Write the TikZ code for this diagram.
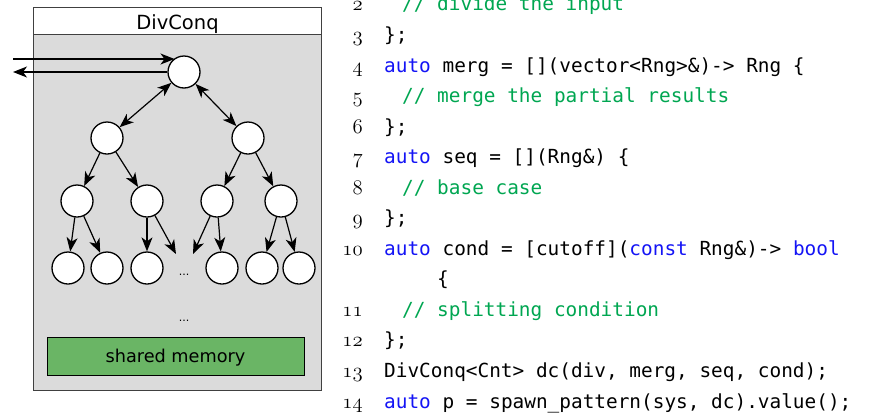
\documentclass[tikz,border=0pt]{standalone}
\usepackage{fontspec}
\setsansfont{DejaVu Sans}
\setmonofont{DejaVu Sans Mono}
\usetikzlibrary{arrows.meta}
\definecolor{boxgray}{RGB}{219,219,219}
\definecolor{boxedge}{RGB}{64,64,64}
\definecolor{memgreen}{RGB}{106,181,101}
\definecolor{kwblue}{RGB}{20,20,245}
\definecolor{cmgreen}{RGB}{0,166,81}
\newcommand\kw[1]{\textcolor{kwblue}{#1}}
\newcommand\cm[1]{\textcolor{cmgreen}{#1}}
% old-style line numbers from the Latin Modern math italic digits
\newcommand\lnum[1]{{\fontencoding{OML}\fontfamily{lmm}\fontseries{m}\fontshape{it}\fontsize{20.5}{22}\selectfont #1}}
\begin{document}
\begin{tikzpicture}[x=1pt,y=-1pt,
  task/.style={circle,draw=black,fill=white,line width=1.3pt,minimum size=32pt,inner sep=0pt},
  arr/.style={-{Stealth[length=14pt,width=11pt,inset=4pt]},line width=1.2pt},
  darr/.style={{Stealth[length=14pt,width=11pt,inset=4pt]}-{Stealth[length=14pt,width=11pt,inset=4pt]},line width=1.2pt},
  lbl/.style={font=\sffamily\fontsize{19.5}{22}\selectfont,inner sep=0pt},
  dots/.style={font=\sffamily\fontsize{11}{12}\selectfont,inner sep=0pt,anchor=base},
  code/.style={font=\ttfamily\fontsize{19.4}{22}\selectfont,inner sep=0pt,anchor=base west},
  lno/.style={inner sep=0pt,anchor=base east}]
\useasboundingbox (0,0) rectangle (874,418);

% container with header band
\node[draw=boxedge,fill=boxgray,line width=1.3pt,minimum width=288pt,minimum height=383pt,inner sep=0pt,anchor=north west] (frame) at (33,7) {};
\node[draw=boxedge,fill=white,line width=1.3pt,minimum width=288pt,minimum height=27pt,inner sep=0pt,anchor=north west] (head) at (33,7) {};
\node[lbl,anchor=base] (title) at (177.5,29.3) {DivConq};

% shared memory
\node[draw=black,fill=memgreen,line width=1pt,minimum width=257pt,minimum height=38pt,inner sep=0pt,anchor=north west] (mem) at (47,337) {};
\node[font=\sffamily\fontsize{17.7}{20}\selectfont,inner sep=0pt,anchor=base] (memtxt) at (175.5,362.7) {shared memory};

% task tree
\node[task] (r) at (184,72) {};
\node[task] (a) at (107,138) {};
\node[task] (b) at (248,138) {};
\node[task] (a1) at (77,201) {};
\node[task] (a2) at (147,201) {};
\node[task] (b1) at (217,201) {};
\node[task] (b2) at (281,201) {};
\node[task] (l1) at (68,268) {};
\node[task] (l2) at (107,268) {};
\node[task] (l3) at (147,268) {};
\node[task] (l4) at (222,268) {};
\node[task] (l5) at (262,268) {};
\node[task] (l6) at (299,268) {};
\node[dots] (d1) at (184,275) {...};
\node[dots] (d2) at (184,321) {...};
\coordinate (e1) at (176,254);
\coordinate (e2) at (193,254);

% input / output of the root task
\coordinate (inA) at (13,59);
\coordinate (inB) at (174.5,59);
\coordinate (outB) at (13,72);
\draw[arr] (inA) -- (inB);
\draw[arr] (r.west) -- (outB);

\draw[darr] (r) -- (a);
\draw[darr] (r) -- (b);
\draw[arr] (a) -- (a1);
\draw[arr] (a) -- (a2);
\draw[arr] (b) -- (b1);
\draw[arr] (b) -- (b2);
\draw[arr] (a1) -- (l1);
\draw[arr] (a1) -- (l2);
\draw[arr] (a2) -- (l3);
\draw[arr] (a2) -- (e1);
\draw[arr] (b1) -- (e2);
\draw[arr] (b1) -- (l4);
\draw[arr] (b2) -- (l5);
\draw[arr] (b2) -- (l6);

% listing
\node[lno] (n2) at (363,10.9) {\lnum{2}};
\node[lno] (n3) at (363,41.45) {\lnum{3}};
\node[lno] (n4) at (363,72) {\lnum{4}};
\node[lno] (n5) at (363,102.55) {\lnum{5}};
\node[lno] (n6) at (363,133.1) {\lnum{6}};
\node[lno] (n7) at (363,163.65) {\lnum{7}};
\node[lno] (n8) at (363,194.2) {\lnum{8}};
\node[lno] (n9) at (363,224.75) {\lnum{9}};
\node[lno] (n10) at (363,255.3) {\lnum{10}};
\node[lno] (n11) at (363,316.4) {\lnum{11}};
\node[lno] (n12) at (363,346.95) {\lnum{12}};
\node[lno] (n13) at (363,377.5) {\lnum{13}};
\node[lno] (n14) at (363,408.05) {\lnum{14}};

\node[code] (c2) at (402,10.9) {\cm{// divide the input}};
\node[code] (c3) at (384,41.45) {\};};
\node[code] (c4) at (384,72) {\kw{auto} merg = [](vector<Rng>\&)-> Rng \{};
\node[code] (c5) at (402,102.55) {\cm{// merge the partial results}};
\node[code] (c6) at (384,133.1) {\};};
\node[code] (c7) at (384,163.65) {\kw{auto} seq = [](Rng\&) \{};
\node[code] (c8) at (402,194.2) {\cm{// base case}};
\node[code] (c9) at (384,224.75) {\};};
\node[code] (c10) at (384,255.3) {\kw{auto} cond = [cutoff](\kw{const} Rng\&)-> \kw{bool}};
\node[code] (c10b) at (437,285.85) {\{};
\node[code] (c11) at (402,316.4) {\cm{// splitting condition}};
\node[code] (c12) at (384,346.95) {\};};
\node[code] (c13) at (384,377.5) {DivConq<Cnt> dc(div, merg, seq, cond);};
\node[code] (c14) at (384,408.05) {\kw{auto} p = spawn\_pattern(sys, dc).value();};
\end{tikzpicture}
\end{document}
